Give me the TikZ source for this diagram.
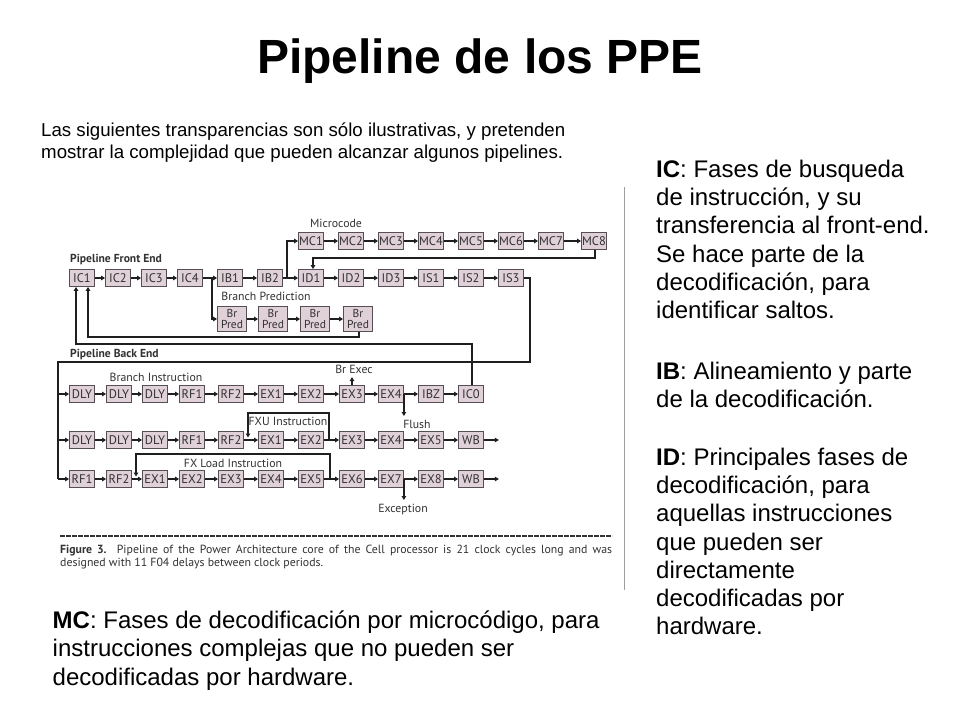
\documentclass[tikz,border=0pt]{standalone}
\usepackage{fontspec}
\setmainfont{Liberation Sans}
\newfontfamily\dfont{PT Sans}
\usetikzlibrary{arrows.meta}
\definecolor{boxfill}{RGB}{224,208,216}
\definecolor{boxline}{RGB}{85,78,84}
\definecolor{dtext}{RGB}{50,50,50}
\begin{document}
\begin{tikzpicture}[x=1pt,y=-1pt,
  stage/.style={draw=boxline, line width=0.8pt, fill=boxfill, minimum width=25pt, minimum height=17pt, inner sep=0pt, font=\dfont\fontsize{12.5}{12.5}\selectfont, text=dtext},
  brp/.style={stage, minimum width=29pt, minimum height=25pt, align=center, font=\dfont\fontsize{11.5}{11}\selectfont},
  conn/.style={line width=1.7pt, draw=black!88, -{Triangle[length=4pt,width=4.5pt]}},
  wire/.style={line width=1.7pt, draw=black!88},
  lbl/.style={font=\dfont\fontsize{11.8}{12}\selectfont, text=dtext, inner sep=0pt},
  hdr/.style={font=\dfont\bfseries\fontsize{11.6}{12}\selectfont, text=dtext, inner sep=0pt, anchor=west},
  slide/.style={font=\fontsize{24}{28}\selectfont, anchor=base west, inner sep=0pt},
]
\useasboundingbox[fill=white] (0,0) rectangle (960,720);

% title and subtitle
\node[font=\bfseries\fontsize{48}{56}\selectfont, anchor=base, inner sep=0pt] (title) at (480,73) {Pipeline de los PPE};
\node[font=\fontsize{18.67}{21}\selectfont, anchor=base west, inner sep=0pt] (sub1) at (41,136) {Las siguientes transparencias son sólo ilustrativas, y pretenden};
\node[font=\fontsize{18.67}{21}\selectfont, anchor=base west, inner sep=0pt] (sub2) at (41,158) {mostrar la complejidad que pueden alcanzar algunos pipelines.};

% ---------- front end ----------
\node[hdr] (pfe) at (70,260) {Pipeline Front End};
\node[lbl] (lmc) at (336,223) {Microcode};
\node[lbl] (lbp) at (266,296) {Branch Prediction};

\node[stage] (ic1) at (82,278) {IC1};
\node[stage] (ic2) at (118,278) {IC2};
\node[stage] (ic3) at (154,278) {IC3};
\node[stage] (ic4) at (190,278) {IC4};
\node[stage] (ib1) at (230,278) {IB1};
\node[stage] (ib2) at (270,278) {IB2};
\node[stage] (id1) at (311,278) {ID1};
\node[stage] (id2) at (351,278) {ID2};
\node[stage] (id3) at (391,278) {ID3};
\node[stage] (is1) at (431,278) {IS1};
\node[stage] (is2) at (471,278) {IS2};
\node[stage] (is3) at (511,278) {IS3};

\node[stage] (mc1) at (311,241) {MC1};
\node[stage] (mc2) at (351,241) {MC2};
\node[stage] (mc3) at (391,241) {MC3};
\node[stage] (mc4) at (431,241) {MC4};
\node[stage] (mc5) at (471,241) {MC5};
\node[stage] (mc6) at (511,241) {MC6};
\node[stage] (mc7) at (551,241) {MC7};
\node[stage] (mc8) at (594,241) {MC8};

\node[brp] (br1) at (232,319) {Br\\Pred};
\node[brp] (br2) at (273,319) {Br\\Pred};
\node[brp] (br3) at (315,319) {Br\\Pred};
\node[brp] (br4) at (358,319) {Br\\Pred};

\foreach \a/\b in {ic1/ic2,ic2/ic3,ic3/ic4,ic4/ib1,ib1/ib2,ib2/id1,id1/id2,id2/id3,id3/is1,is1/is2,is2/is3,
  mc1/mc2,mc2/mc3,mc3/mc4,mc4/mc5,mc5/mc6,mc6/mc7,mc7/mc8,br1/br2,br2/br3,br3/br4}
  \draw[conn] (\a) -- (\b);

\coordinate (j1) at (212,278);
\draw[conn] (j1) |- (br1);
\coordinate (j2) at (287,278);
\draw[conn] (j2) |- (mc1);
\coordinate (m8) at (595,258);
\draw[conn] (mc8.south -| m8) -- (m8) -| ([xshift=2pt]id1.north);

% feedback to IC1
\coordinate (fb1) at (359,337);
\draw[conn] (br4.south -| fb1) -- (fb1) -| ([xshift=6pt]ic1.south);

% ---------- back end ----------
\node[hdr] (pbe) at (70,355) {Pipeline Back End};
\node[lbl] (lbi) at (156,377) {Branch Instruction};
\node[lbl] (lbe) at (354,369) {Br Exec};
\node[lbl] (lfl) at (417,424) {Flush};
\node[lbl] (lfxu) at (288,421) {FXU Instruction};
\node[lbl] (lfxl) at (233,463) {FX Load Instruction};
\node[lbl] (lexc) at (403,509) {Exception};

% row 2
\node[stage] (a1) at (82,394) {DLY};
\node[stage] (a2) at (119,394) {DLY};
\node[stage] (a3) at (155,394) {DLY};
\node[stage] (a4) at (192,394) {RF1};
\node[stage] (a5) at (231,394) {RF2};
\node[stage] (a6) at (271,394) {EX1};
\node[stage] (a7) at (311,394) {EX2};
\node[stage] (a8) at (352,394) {EX3};
\node[stage] (a9) at (391,394) {EX4};
\node[stage] (a10) at (431,394) {IBZ};
\node[stage] (a11) at (471,394) {IC0};
% row 3
\node[stage] (b1) at (82,440) {DLY};
\node[stage] (b2) at (119,440) {DLY};
\node[stage] (b3) at (155,440) {DLY};
\node[stage] (b4) at (192,440) {RF1};
\node[stage] (b5) at (231,440) {RF2};
\node[stage] (b6) at (271,440) {EX1};
\node[stage] (b7) at (311,440) {EX2};
\node[stage] (b8) at (352,440) {EX3};
\node[stage] (b9) at (391,440) {EX4};
\node[stage] (b10) at (431,440) {EX5};
\node[stage] (b11) at (471,440) {WB};
% row 4
\node[stage] (c1) at (82,479) {RF1};
\node[stage] (c2) at (119,479) {RF2};
\node[stage] (c3) at (155,479) {EX1};
\node[stage] (c4) at (192,479) {EX2};
\node[stage] (c5) at (231,479) {EX3};
\node[stage] (c6) at (271,479) {EX4};
\node[stage] (c7) at (311,479) {EX5};
\node[stage] (c8) at (352,479) {EX6};
\node[stage] (c9) at (391,479) {EX7};
\node[stage] (c10) at (431,479) {EX8};
\node[stage] (c11) at (471,479) {WB};

\foreach \r in {a,b,c}{
  \foreach \i [evaluate=\i as \j using int(\i+1)] in {1,...,10}
    \draw[conn] (\r\i) -- (\r\j);
}
\draw[conn] (b11.east) -- ++(15,0);
\draw[conn] (c11.east) -- ++(15,0);

% IS3 to back end
\coordinate (t1) at (530,278);
\coordinate (t2) at (530,362);
\coordinate (t3) at (58,362);
\coordinate (t4) at (58,479);
\draw[wire] (is3.east) -- (t1) -- (t2) -- (t3) -- (t4);
\draw[conn] (a1.west -| t3) -- (a1.west);
\draw[conn] (b1.west -| t3) -- (b1.west);
\draw[conn] (t4) -- (c1.west);

% IC0 to IC1
\coordinate (fb2) at (472,344);
\draw[conn] (a11.north -| fb2) -- (fb2) -| ([xshift=-6pt]ic1.south);

% Br Exec, Flush, Exception
\draw[conn] (a8.north) -- ++(0,-8);
\draw[conn] (a9.east) -- ++(0,22);
\draw[conn] (c9.east) -- ++(0,21);

% FXU loop
\coordinate (u1) at (329,440);
\coordinate (u2) at (329,413);
\coordinate (u3) at (248,413);
\coordinate (u4) at (248,437.5);
\draw[conn] (u1) -- (u2) -- (u3) -- (u4);
% FX Load loop
\coordinate (v1) at (330,479);
\coordinate (v2) at (330,454);
\coordinate (v3) at (136,454);
\coordinate (v4) at (136,476.5);
\draw[conn] (v1) -- (v2) -- (v3) -- (v4);

% caption
\coordinate (s1) at (60,536);
\coordinate (s2) at (612,536);
\draw[line width=2.8pt, draw=black!80, dash pattern=on 5pt off 1pt] (s1) -- (s2);
\node[anchor=base west, inner sep=0pt, font=\dfont\fontsize{11.8}{13}\selectfont, text=dtext] (cap1) at (60,553)
  {\makebox[552pt][s]{\textbf{Figure 3.} Pipeline of the Power Architecture core of the Cell processor is 21 clock cycles long and was}};
\node[anchor=base west, inner sep=0pt, font=\dfont\fontsize{11.8}{13}\selectfont, text=dtext] (cap2) at (60,566)
  {designed with 11 F04 delays between clock periods.};

% separator
\coordinate (g1) at (624,187);
\coordinate (g2) at (624,590);
\draw[gray!75, line width=1pt] (g1) -- (g2);

% right text
\node[slide] (r1) at (656,177) {\textbf{IC}: Fases de busqueda};
\node[slide] (r2) at (656,205.3) {de instrucción, y su};
\node[slide] (r3) at (656,233.6) {transferencia al front-end.};
\node[slide] (r4) at (656,262) {Se hace parte de la};
\node[slide] (r5) at (656,290.2) {decodificación, para};
\node[slide] (r6) at (656,318.5) {identificar saltos.};
\node[slide] (r7) at (656,379) {\textbf{IB}: Alineamiento y parte};
\node[slide] (r8) at (656,407.3) {de la decodificación.};
\node[slide] (r9) at (656,465) {\textbf{ID}: Principales fases de};
\node[slide] (r10) at (656,493.3) {decodificación, para};
\node[slide] (r11) at (656,521.6) {aquellas instrucciones};
\node[slide] (r12) at (656,550) {que pueden ser};
\node[slide] (r13) at (656,578.2) {directamente};
\node[slide] (r14) at (656,606.5) {decodificadas por};
\node[slide] (r15) at (656,634.8) {hardware.};

% bottom text
\node[slide] (m1) at (52.5,628) {\textbf{MC}: Fases de decodificación por microcódigo, para};
\node[slide] (m2) at (52.5,656.5) {instrucciones complejas que no pueden ser};
\node[slide] (m3) at (52.5,685) {decodificadas por hardware.};
\end{tikzpicture}
\end{document}
